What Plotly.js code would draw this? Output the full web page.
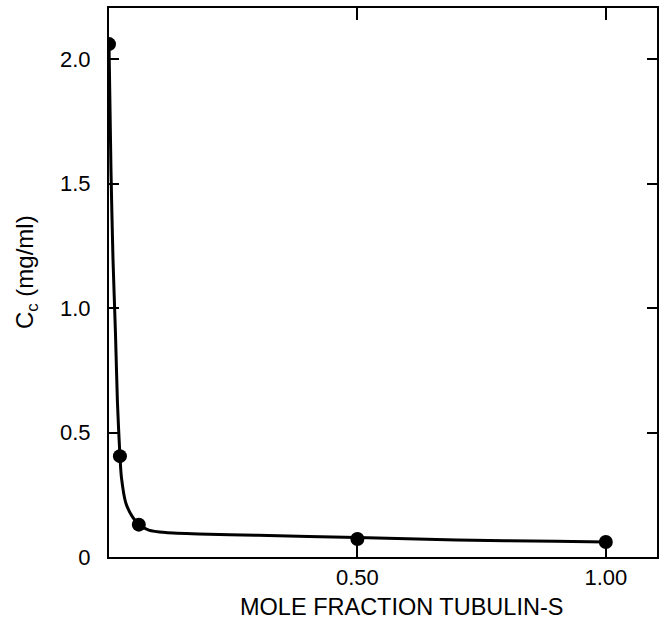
<!DOCTYPE html>
<html>
<head>
<meta charset="utf-8">
<script src="https://cdn.plot.ly/plotly-3.0.1.min.js"></script>
<style>html,body{margin:0;padding:0;background:#fff;}#chart{width:666px;height:622px;}</style>
</head>
<body>
<div id="chart"></div>
<script>
// Measured data points
const moleFraction = [0, 0.022, 0.06, 0.5, 1.0];
const ccValues = [2.06, 0.405, 0.13, 0.072, 0.06];

// Smooth curve as drawn in the figure
const curveX = [0, 0.004, 0.008, 0.013, 0.017, 0.022, 0.025, 0.034, 0.047, 0.06, 0.08, 0.114, 0.18, 0.3, 0.5, 0.7, 0.9, 1.0];
const curveY = [2.06, 1.55, 1.2, 0.9, 0.62, 0.405, 0.32, 0.216, 0.162, 0.13, 0.108, 0.098, 0.092, 0.087, 0.078, 0.068, 0.063, 0.06];

const xTickVals = [0.5, 1.0];
const xTickText = ['0.50', '1.00'];
const yTickVals = [0, 0.5, 1.0, 1.5, 2.0];
const yTickText = ['0', '0.5', '1.0', '1.5', '2.0'];
const xTitle = 'MOLE FRACTION TUBULIN-S';
const yTitle = 'C<sub>c</sub> (mg/ml)';

const font = 'Liberation Sans, Arial, Helvetica, sans-serif';

const traces = [
  {x: curveX, y: curveY, type: 'scatter', mode: 'lines',
   line: {color: '#000', width: 3, shape: 'spline', smoothing: 0.6}, hoverinfo: 'skip'},
  {x: moleFraction, y: ccValues, type: 'scatter', mode: 'markers',
   marker: {color: '#000', size: 14}}
];

const layout = {
  width: 666, height: 622,
  margin: {l: 109, r: 9, t: 8, b: 65},
  paper_bgcolor: '#fff', plot_bgcolor: '#fff',
  showlegend: false,
  font: {family: font, color: '#000', size: 22},
  xaxis: {
    range: [0, 1.103], showgrid: false, zeroline: false,
    showline: true, linecolor: '#000', linewidth: 2, mirror: 'ticks',
    ticks: 'inside', ticklen: 12, tickwidth: 2, tickcolor: '#000',
    tickvals: xTickVals, ticktext: xTickText,
    tickfont: {size: 22}
  },
  yaxis: {
    range: [0, 2.205], showgrid: false, zeroline: false,
    showline: true, linecolor: '#000', linewidth: 2, mirror: 'ticks',
    ticks: 'inside', ticklen: 10, tickwidth: 2, tickcolor: '#000',
    tickvals: yTickVals, ticktext: yTickText,
    tickfont: {size: 22}, ticklabelstandoff: 12
  },
  annotations: [
    {text: xTitle, xref: 'paper', yref: 'paper', x: 0.533, y: -0.091,
     xanchor: 'center', yanchor: 'middle', showarrow: false, font: {size: 23.5}},
    {text: yTitle, xref: 'paper', yref: 'paper', x: -0.1515, y: 0.519,
     xanchor: 'center', yanchor: 'middle', textangle: -90, showarrow: false, font: {size: 24}}
  ]
};

Plotly.newPlot('chart', traces, layout, {staticPlot: true});
</script>
</body>
</html>
